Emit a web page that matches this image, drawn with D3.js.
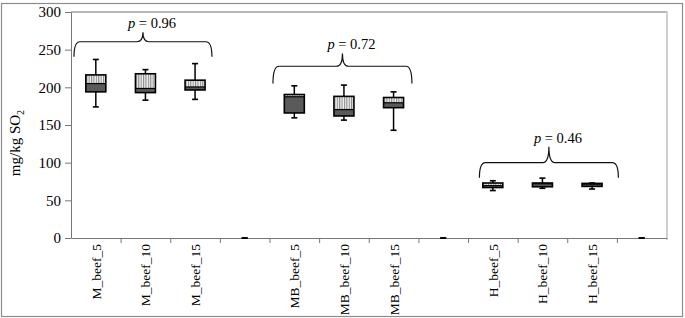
<!DOCTYPE html>
<html lang="en">
    <head>
        <meta charset="utf-8">
        <title>SO2 box plot</title>
        <script src="https://d3js.org/d3.v7.min.js"></script>
        <style type="text/css">
        body {
            margin: 0;
            background-color: white;
        }
        svg text {
            font-family: "Liberation Serif", "DejaVu Serif", serif;
            fill: #000;
        }
        </style>
    </head>
    <body>
        <svg width="685" height="318"></svg>
        <script type="text/javascript">

            // values (mg/kg SO2)
            const categories  = ["M_beef_5", "M_beef_10", "M_beef_15", "", "MB_beef_5", "MB_beef_10", "MB_beef_15", "", "H_beef_5", "H_beef_10", "H_beef_15", ""];
            const whiskerLow  = [174, 183, 184, 0, 159.5, 156.5, 143, 0, 63, 66, 65, 0];
            const q1          = [194, 193, 196.5, 0, 166, 162, 173, 0, 67, 68, 68.5, 0];
            const median      = [205, 198.5, 200.5, 0, 187.5, 170.5, 179.5, 0, 69.5, 72, 71.5, 0];
            const q3          = [216.5, 218, 209.5, 0, 190.5, 188, 186.5, 0, 73, 73, 72.5, 0];
            const whiskerHigh = [237, 223.5, 231.5, 0, 202, 203, 194, 0, 76, 79.5, 73, 0];
            const yTicks = [0, 50, 100, 150, 200, 250, 300];

            // p-value braces: position in category units, heights in mg/kg
            const pValues    = ["0.96", "0.72", "0.46"];
            const braceFrom  = [0.06, 4.07, 8.23];
            const braceTo    = [2.84, 6.87, 11.03];
            const braceLevel = [260.5, 228, 100];
            const braceEnd   = [240.5, 205, 80];
            const braceTip   = [273, 245, 121];

            const svg = d3.select("svg");
            const mLeft = 71, mRight = 666.5, mTop = 12, mBottom = 238;

            const x = d3.scaleBand().domain(d3.range(categories.length)).range([mLeft, mRight]);
            const xu = d3.scaleLinear().domain([0, categories.length]).range([mLeft, mRight]);
            const y = d3.scaleLinear().domain([0, 300]).range([mBottom, mTop]);

            // hatch pattern for upper half of boxes
            const defs = svg.append("defs");
            const pat = defs.append("pattern")
                .attr("id", "hatch")
                .attr("patternUnits", "userSpaceOnUse")
                .attr("width", 2.4).attr("height", 4);
            pat.append("rect").attr("width", 2.4).attr("height", 4).attr("fill", "#f2f2f2");
            pat.append("rect").attr("width", 1.1).attr("height", 4).attr("fill", "#8a8a8a");

            // outer frame
            svg.append("rect")
                .attr("x", 1.5).attr("y", 3.5)
                .attr("width", 681).attr("height", 313)
                .attr("fill", "none").attr("stroke", "#8c8c8c").attr("stroke-width", 1.2);

            // plot area border (top dark, right light)
            svg.append("line")
                .attr("x1", mLeft).attr("x2", mRight + 1)
                .attr("y1", mTop).attr("y2", mTop)
                .attr("stroke", "#6e6e6e").attr("stroke-width", 1);
            svg.append("line")
                .attr("x1", mRight + 0.5).attr("x2", mRight + 0.5)
                .attr("y1", mTop).attr("y2", mBottom + 2)
                .attr("stroke", "#cfcfcf").attr("stroke-width", 2);

            // y axis
            const yAxis = svg.append("g")
                .attr("transform", `translate(${mLeft},0)`)
                .call(d3.axisLeft(y).tickValues(yTicks).tickSize(6).tickSizeOuter(0).tickPadding(4));
            yAxis.selectAll("path, line").attr("stroke", "#777");
            yAxis.selectAll("text").style("font-size", "15px").attr("font-family", null);

            // x axis: ticks between categories
            const xAxis = svg.append("g")
                .attr("transform", `translate(0,${mBottom})`)
                .call(d3.axisBottom(xu).tickValues(d3.range(1, categories.length)).tickSize(5).tickSizeOuter(0).tickFormat(""));
            xAxis.selectAll("path, line").attr("stroke", "#777");

            // category labels
            svg.selectAll("text.cat")
                .data(categories)
                .enter()
                .append("text")
                .attr("class", "cat")
                .attr("transform", (d, i) => `translate(${x(i) + x.bandwidth() / 2 + 5},${mBottom + 6}) rotate(-90)`)
                .attr("text-anchor", "end")
                .style("font-size", "13.5px")
                .text(d => d);

            // y axis title
            const yt = svg.append("text")
                .attr("transform", "translate(20,143) rotate(-90)")
                .attr("text-anchor", "middle")
                .style("font-size", "15px");
            yt.append("tspan").text("mg/kg SO");
            yt.append("tspan").attr("dy", 4).style("font-size", "10px").text("2");

            // boxes
            const bw = 20, cap = 6;
            const boxes = svg.selectAll("g.box")
                .data(categories.map((c, i) => i))
                .enter()
                .append("g")
                .attr("class", "box")
                .attr("transform", i => `translate(${x(i) + x.bandwidth() / 2},0)`);

            boxes.append("line")
                .attr("y1", i => y(whiskerLow[i])).attr("y2", i => y(whiskerHigh[i]))
                .attr("stroke", "#000").attr("stroke-width", 1.5);
            boxes.append("line")
                .attr("x1", -cap / 2).attr("x2", cap / 2)
                .attr("y1", i => y(whiskerHigh[i])).attr("y2", i => y(whiskerHigh[i]))
                .attr("stroke", "#000").attr("stroke-width", 1.6);
            boxes.append("line")
                .attr("x1", -cap / 2).attr("x2", cap / 2)
                .attr("y1", i => y(whiskerLow[i])).attr("y2", i => y(whiskerLow[i]))
                .attr("stroke", "#000").attr("stroke-width", 1.6);

            const real = boxes.filter(i => q3[i] > q1[i]);
            real.append("rect")
                .attr("x", -bw / 2).attr("width", bw)
                .attr("y", i => y(q3[i])).attr("height", i => y(median[i]) - y(q3[i]))
                .attr("fill", "url(#hatch)");
            real.append("rect")
                .attr("x", -bw / 2).attr("width", bw)
                .attr("y", i => y(median[i])).attr("height", i => y(q1[i]) - y(median[i]))
                .attr("fill", "#5a5a5a");
            real.append("rect")
                .attr("x", -bw / 2).attr("width", bw)
                .attr("y", i => y(q3[i])).attr("height", i => y(q1[i]) - y(q3[i]))
                .attr("fill", "none").attr("stroke", "#000").attr("stroke-width", 1.6);
            real.append("line")
                .attr("x1", -bw / 2).attr("x2", bw / 2)
                .attr("y1", i => y(median[i])).attr("y2", i => y(median[i]))
                .attr("stroke", "#000").attr("stroke-width", 1.2);

            // curly braces with p values
            const brace = (k) => {
                const x0 = xu(braceFrom[k]), x1 = xu(braceTo[k]);
                const xc = (x0 + x1) / 2;
                const yh = y(braceLevel[k]), ye = y(braceEnd[k]), yp = y(braceTip[k]);
                const r = 6;
                return `M${x0},${ye} Q${x0},${yh} ${x0 + r},${yh} L${xc - r},${yh} Q${xc},${yh} ${xc},${yp}` +
                       ` Q${xc},${yh} ${xc + r},${yh} L${x1 - r},${yh} Q${x1},${yh} ${x1},${ye}`;
            };
            svg.selectAll("path.brace")
                .data(pValues.map((p, k) => k))
                .enter()
                .append("path")
                .attr("class", "brace")
                .attr("d", brace)
                .attr("fill", "none").attr("stroke", "#111").attr("stroke-width", 1.2);

            const pt = svg.selectAll("text.pval")
                .data(pValues.map((p, k) => k))
                .enter()
                .append("text")
                .attr("class", "pval")
                .attr("x", k => (xu(braceFrom[k]) + xu(braceTo[k])) / 2 - 15)
                .attr("y", k => y(braceTip[k]) - 4)
                .style("font-size", "14.5px");
            pt.append("tspan").style("font-style", "italic").text("p");
            pt.append("tspan").text(k => " = " + pValues[k]);

        </script>
    </body>
</html>
